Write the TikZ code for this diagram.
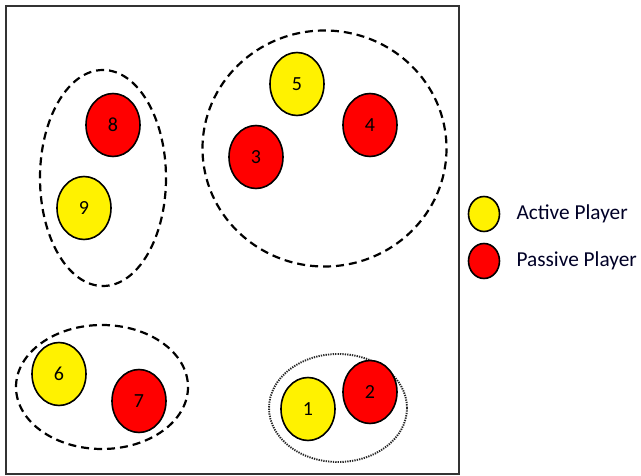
\documentclass[tikz,border=0pt]{standalone}
\usepackage{fontspec}
\setmainfont{Carlito}
\usetikzlibrary{shapes.geometric}
\begin{document}
\begin{tikzpicture}[x=1pt,y=-1pt,
  player/.style={ellipse, draw=black, line width=1.6pt, minimum width=54pt, minimum height=63pt, inner sep=0pt, font=\fontsize{20}{20}\selectfont},
  active/.style={player, fill=yellow},
  passive/.style={player, fill=red},
  legendmark/.style={ellipse, draw=black, line width=1.6pt, minimum width=31pt, minimum height=35pt, inner sep=0pt},
  group/.style={draw=black, line width=2.2pt, dash pattern=on 8pt off 5pt},
  pair/.style={draw=black!85, line width=1.9pt, dash pattern=on 1.3pt off 1.1pt},
  legendtext/.style={anchor=west, font=\fontsize{21.3}{21.3}\selectfont, text=black!85!blue}]
\useasboundingbox (0,0) rectangle (641,476);
% field frame
\draw[line width=1.6pt, draw=black!80] (6,6) rectangle (459,474);
% groups
\draw[group] (103,178) ellipse [x radius=63, y radius=108];
\draw[group] (324.5,148.5) ellipse [x radius=122, y radius=118];
\draw[group] (102,387) ellipse [x radius=86, y radius=62];
\draw[pair] (338,408) ellipse [x radius=69, y radius=54];
% players
\node[active]  (p5) at (297,84)  {5};
\node[passive] (p4) at (370,125) {4};
\node[passive] (p3) at (256,157) {3};
\node[passive] (p8) at (113,125) {8};
\node[active]  (p9) at (84,208)  {9};
\node[active]  (p6) at (59,374)  {6};
\node[passive] (p7) at (139,401) {7};
\node[active]  (p1) at (308,409) {1};
\node[passive] (p2) at (370,392) {2};
% legend
\node[legendmark, fill=yellow] (la) at (484,214) {};
\node[legendmark, fill=red]    (lp) at (484,261) {};
\node[legendtext] (ta) at (513,214) {Active Player};
\node[legendtext] (tp) at (513,261) {Passive Player};
\end{tikzpicture}
\end{document}
